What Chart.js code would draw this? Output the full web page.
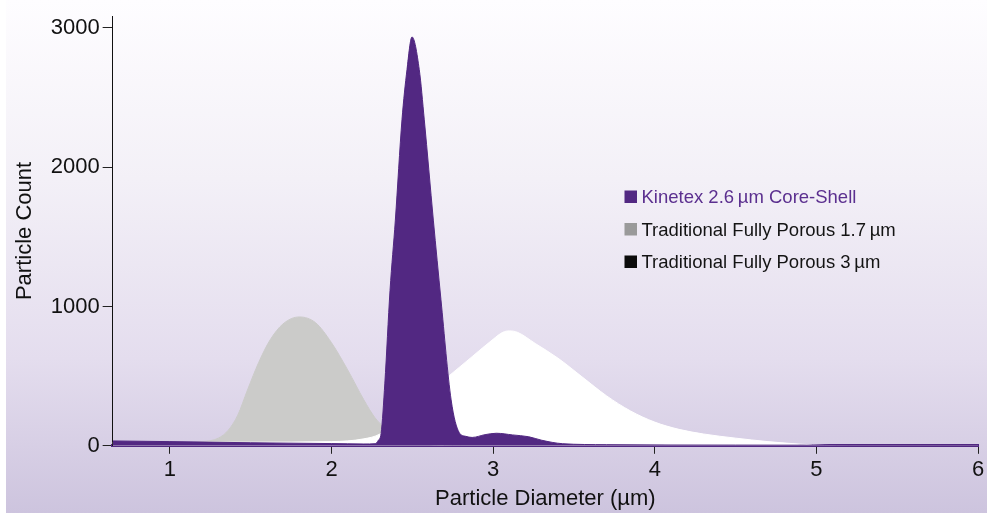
<!DOCTYPE html>
<html>
<head>
<meta charset="utf-8">
<script src="https://cdn.jsdelivr.net/npm/chart.js@4.4.1/dist/chart.umd.min.js"></script>
<style>
  html, body { margin: 0; padding: 0; background: #ffffff; }
  #wrap {
    position: absolute; left: 6px; top: 0; width: 981px; height: 513px;
    background: linear-gradient(to bottom, #fefdff 0%, #f3f0f7 35%, #e4ddee 70%, #cdc4de 100%);
  }
  #chart { position: absolute; left: 0; top: 0; }
</style>
</head>
<body>
<div id="wrap"></div>
<canvas id="chart" width="987" height="513"></canvas>
<script>
// Particle size distributions (x in µm, y = particle count)

const seriesLabels = [
    'Kinetex 2.6\u2009µm Core-Shell',
    'Traditional Fully Porous 1.7\u2009µm',
    'Traditional Fully Porous 3\u2009µm'
];

const kinetexX = [0.646, 1.0, 1.5, 2.0, 2.2, 2.27, 2.29, 2.307, 2.33, 2.362, 2.395, 2.436, 2.467, 2.498,
    2.543, 2.574, 2.63, 2.677, 2.74, 2.79, 2.83, 2.87, 2.95, 3.02, 3.12, 3.22, 3.3, 3.43, 3.7, 4.5, 6.0];
const kinetexY = [35, 30, 22, 16, 13, 15, 40, 90, 450, 1115, 1620, 2340, 2700, 2935,
    2700, 2340, 1620, 1050, 330, 95, 68, 60, 80, 90, 78, 65, 40, 15, 8, 5, 3];

const porous17X = [0.646, 1.0, 1.2, 1.3, 1.36, 1.42, 1.48, 1.55, 1.62, 1.7, 1.8, 1.9, 2.0, 2.1,
    2.2, 2.27, 2.33, 2.45, 2.6, 2.8, 6.0];
const porous17Y = [20, 22, 30, 55, 110, 220, 400, 600, 760, 875, 925, 885, 740, 545,
    330, 200, 130, 60, 10, 0, 0];

const porous3X = [0.646, 1.0, 1.5, 2.0, 2.2, 2.3, 2.5, 2.73, 2.87, 3.0, 3.06, 3.1, 3.15, 3.26,
    3.4, 3.55, 3.7, 3.85, 4.0, 4.15, 4.3, 4.5, 4.7, 4.9, 5.05, 5.2, 6.0];
const porous3Y = [25, 26, 26, 30, 50, 85, 280, 505, 640, 765, 815, 825, 815, 735,
    630, 495, 360, 250, 170, 118, 85, 55, 30, 12, 3, 0, 0];

const xTicks = [1, 2, 3, 4, 5, 6];
const yTicks = [0, 1000, 2000, 3000];

const fillColors = ['#522882', '#cbcbc9', '#ffffff'];
const legendColors = ['#522882', '#9a9a9a', '#0b0b0b'];
const legendTextColors = ['#5b2f8f', '#141414', '#141414'];

const FONT = '"Liberation Sans", Arial, Helvetica, sans-serif';

function toPoints(xs, ys) {
    return xs.map((x, i) => ({ x: x, y: ys[i] }));
}

// legend sits inside the plot, so draw it by hand
const insideLegend = {
    id: 'insideLegend',
    afterDraw(chart) {
        const ctx = chart.ctx;
        const left = 624.5;
        const rowY = [196.5, 229, 261.5];
        ctx.save();
        ctx.font = '18.5px ' + FONT;
        ctx.textBaseline = 'alphabetic';
        ctx.textAlign = 'left';
        for (let i = 0; i < seriesLabels.length; i++) {
            ctx.fillStyle = legendColors[i];
            ctx.fillRect(left, rowY[i] - 6, 12.5, 12.5);
            ctx.fillStyle = legendTextColors[i];
            ctx.fillText(seriesLabels[i], left + 17, rowY[i] + 6.5);
        }
        ctx.restore();
    }
};

const datasets = [
    { data: toPoints(kinetexX, kinetexY), order: 0 },
    { data: toPoints(porous17X, porous17Y), order: 2 },
    { data: toPoints(porous3X, porous3Y), order: 1 }
].map((d, i) => ({
    label: seriesLabels[i],
    data: d.data,
    order: d.order,
    fill: 'origin',
    backgroundColor: fillColors[i],
    borderColor: fillColors[i],
    borderWidth: 1,
    pointRadius: 0,
    cubicInterpolationMode: 'monotone'
}));

new Chart(document.getElementById('chart'), {
    type: 'line',
    data: { datasets: datasets },
    plugins: [insideLegend],
    options: {
        responsive: false,
        animation: false,
        layout: { padding: { left: 6, right: 8, top: 16, bottom: 0.8 } },
        plugins: {
            legend: { display: false },
            tooltip: { enabled: false }
        },
        scales: {
            x: {
                type: 'linear',
                min: 0.646,
                max: 6,
                afterBuildTicks: (scale) => { scale.ticks = xTicks.map(v => ({ value: v })); },
                grid: { drawOnChartArea: false, tickLength: 8, tickColor: '#222222', tickWidth: 1 },
                border: { color: '#522882', width: 3 },
                ticks: {
                    color: '#111111', padding: 2.8, font: { family: FONT, size: 22 },
                    callback: (v) => String(v)
                },
                title: {
                    display: true,
                    text: 'Particle Diameter (µm)',
                    color: '#111111',
                    font: { family: FONT, size: 22 },
                    padding: { top: 0, bottom: 0 }
                }
            },
            y: {
                min: 0,
                max: 3084,
                afterBuildTicks: (scale) => { scale.ticks = yTicks.map(v => ({ value: v })); },
                grid: { drawOnChartArea: false, tickLength: 10, tickColor: '#222222', tickWidth: 1 },
                border: { color: '#111111', width: 1 },
                ticks: {
                    color: '#111111', padding: 3, font: { family: FONT, size: 22 },
                    callback: (v) => String(v)
                },
                title: {
                    display: true,
                    text: 'Particle Count',
                    color: '#111111',
                    font: { family: FONT, size: 22 },
                    padding: { top: 5.8, bottom: 9.5 }
                }
            }
        }
    }
});
</script>
</body>
</html>
